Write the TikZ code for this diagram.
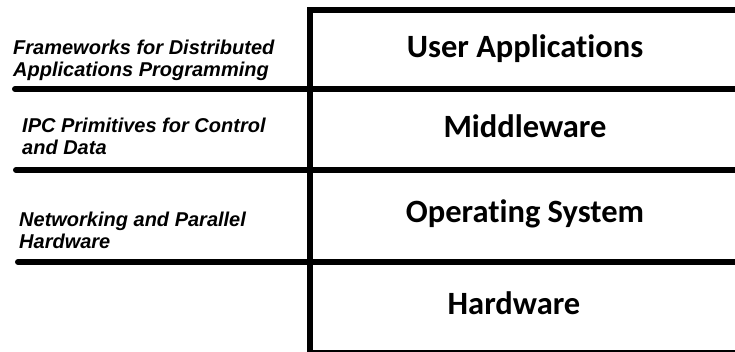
\documentclass[tikz,border=0pt]{standalone}
\usepackage{fontspec}
\usepackage{tikz}
\usetikzlibrary{positioning}
\newfontfamily\sidefont{Liberation Sans}
\newfontfamily\layerfont{Carlito}[Ligatures={NoCommon,NoContextual}]
\tikzstyle{side}=[anchor=base west, align=left, inner sep=0pt,
        font=\sidefont\bfseries\itshape\fontsize{20}{22.5}\selectfont]
\tikzstyle{layer}=[anchor=base, inner sep=0pt,
        font=\layerfont\bfseries\fontsize{32.5}{36}\selectfont]
\tikzstyle{line}=[-, line width=6pt, line cap=round]
\tikzstyle{frame}=[-, line width=6.5pt]

\begin{document}
\begin{tikzpicture}[x=1pt, y=1pt]
    \useasboundingbox (0,0) rectangle (735,352);
    \clip (0,0) rectangle (735,352);
    % side labels
    \node (Frameworks) [side] at (13,275) {Frameworks for Distributed\\Applications Programming};
    \node (IPC) [side] at (22,197) {IPC Primitives for Control\\and Data};
    \node (Networking) [side] at (19,103.3) {Networking and Parallel\\Hardware};
    % layers
    \node (User) [layer] at (525,294) {User Applications};
    \node (Middleware) [layer] at (525,214) {Middleware};
    \node (OS) [layer] at (525,129) {Operating System};
    \node (HW) [layer] at (514,37) {Hardware};
    % frame of the layers
    \coordinate (TopLeft) at (310,342);
    \coordinate (TopRight) at (745,342);
    \coordinate (BottomLeft) at (310,-1);
    \coordinate (BottomRight) at (745,-1);
    \draw[frame] (TopRight) -- (TopLeft) -- (BottomLeft) -- (BottomRight);
    % separators
    \coordinate (SepA) at (15,263);
    \coordinate (SepB) at (16,182);
    \coordinate (SepC) at (18,90);
    \draw[line] (SepA) -- (SepA -| TopRight);
    \draw[line] (SepB) -- (SepB -| TopRight);
    \draw[line] (SepC) -- (SepC -| TopRight);
\end{tikzpicture}
\end{document}
